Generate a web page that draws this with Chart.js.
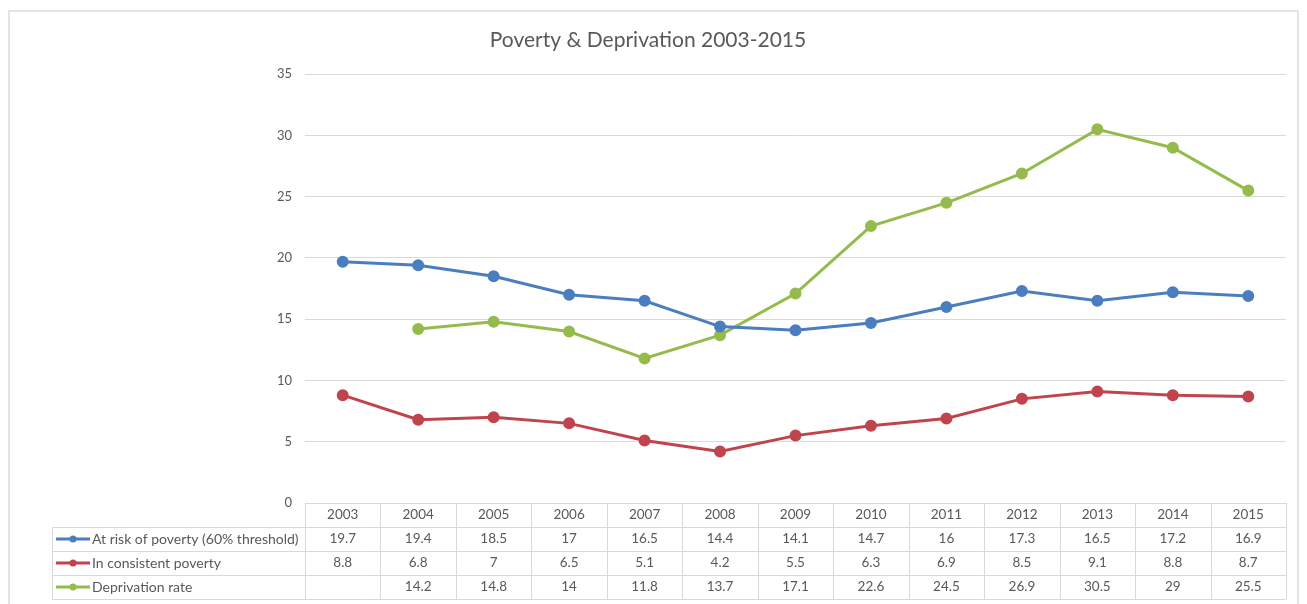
<!DOCTYPE html>
<html>
<head>
<meta charset="utf-8">
<title>Poverty & Deprivation 2003-2015</title>
<script src="https://cdn.jsdelivr.net/npm/chart.js@4/dist/chart.umd.min.js"></script>
<style>
  body { margin: 0; background: #fff; }
  canvas { display: block; }
</style>
</head>
<body>
<canvas id="povertyChart" width="1307" height="604"></canvas>
<script>
// Chart data
const years = ["2003", "2004", "2005", "2006", "2007", "2008", "2009", "2010", "2011", "2012", "2013", "2014", "2015"];
const atRisk = [19.7, 19.4, 18.5, 17, 16.5, 14.4, 14.1, 14.7, 16, 17.3, 16.5, 17.2, 16.9];
const consistentPoverty = [8.8, 6.8, 7, 6.5, 5.1, 4.2, 5.5, 6.3, 6.9, 8.5, 9.1, 8.8, 8.7];
const deprivation = [null, 14.2, 14.8, 14, 11.8, 13.7, 17.1, 22.6, 24.5, 26.9, 30.5, 29, 25.5];
const seriesNames = ["At risk of poverty (60% threshold)", "In consistent poverty", "Deprivation rate"];
const yTicks = [0, 5, 10, 15, 20, 25, 30, 35];

const FONT = "Lato, 'Open Sans', sans-serif";
const TEXT = "#595959";
const GRID = "#d9d9d9";

// Data table drawn under the plot, like the Excel chart
const dataTable = {
  id: "dataTable",
  beforeDraw(chart) {
    const ctx = chart.ctx;
    ctx.save();
    ctx.strokeStyle = "#e3e3e3";
    ctx.lineWidth = 2;
    ctx.strokeRect(9, 11, 1289, 600);
    ctx.restore();
  },
  afterDraw(chart) {
    const ctx = chart.ctx;
    const x = chart.scales.x;
    const area = chart.chartArea;
    const rowH = 24;
    const top = area.bottom;
    const labelLeft = 52;
    const colW = (area.right - area.left) / years.length;

    ctx.save();
    ctx.strokeStyle = GRID;
    ctx.lineWidth = 1;

    // horizontal lines
    for (let r = 0; r <= 4; r++) {
      const y = Math.round(top + r * rowH) + 0.5;
      ctx.beginPath();
      ctx.moveTo(r === 0 ? area.left : labelLeft, y);
      ctx.lineTo(area.right, y);
      ctx.stroke();
    }
    // vertical lines
    for (let c = 0; c <= years.length; c++) {
      const xx = Math.round(area.left + c * colW) + 0.5;
      ctx.beginPath();
      ctx.moveTo(xx, top);
      ctx.lineTo(xx, top + 4 * rowH);
      ctx.stroke();
    }
    ctx.beginPath();
    ctx.moveTo(labelLeft + 0.5, top + rowH);
    ctx.lineTo(labelLeft + 0.5, top + 4 * rowH);
    ctx.stroke();

    ctx.font = "13.5px " + FONT;
    ctx.fillStyle = TEXT;
    ctx.textAlign = "center";
    ctx.textBaseline = "middle";
    const rows = [atRisk, consistentPoverty, deprivation];
    years.forEach((yr, i) => {
      const cx = x.getPixelForValue(i);
      ctx.fillText(yr, cx, top + rowH / 2);
      rows.forEach((vals, r) => {
        if (vals[i] !== null) ctx.fillText(String(vals[i]), cx, top + (r + 1.5) * rowH);
      });
    });

    // legend keys in the label column
    ctx.font = "14px " + FONT;
    chart.data.datasets.forEach((ds, r) => {
      const cy = top + (r + 1.5) * rowH;
      ctx.strokeStyle = ds.borderColor;
      ctx.lineWidth = 3;
      ctx.beginPath();
      ctx.moveTo(56, cy);
      ctx.lineTo(90, cy);
      ctx.stroke();
      ctx.fillStyle = ds.borderColor;
      ctx.beginPath();
      ctx.arc(73, cy, 3.5, 0, Math.PI * 2);
      ctx.fill();
      ctx.fillStyle = TEXT;
      ctx.textAlign = "left";
      ctx.fillText(ds.label, 92, cy);
    });
    ctx.restore();
  }
};

function line(label, values, color) {
  return {
    label: label,
    data: values,
    borderColor: color,
    backgroundColor: color,
    borderWidth: 3,
    pointRadius: 4.5,
    pointHoverRadius: 5.5,
    tension: 0,
  };
}

new Chart(document.getElementById("povertyChart").getContext("2d"), {
  type: "line",
  data: {
    labels: years,
    datasets: [
      line(seriesNames[0], atRisk, "#4a7ebf"),
      line(seriesNames[1], consistentPoverty, "#c0444d"),
      line(seriesNames[2], deprivation, "#94bb4c"),
    ],
  },
  options: {
    responsive: false,
    animation: false,
    layout: { padding: { left: 10, right: 21, top: 0, bottom: 101 } },
    plugins: {
      legend: { display: false },
      tooltip: { enabled: true },
      title: {
        display: true,
        text: "Poverty & Deprivation 2003-2015",
        color: TEXT,
        font: { family: FONT, size: 21, weight: "normal" },
        padding: { top: 28, bottom: 21 },
      },
    },
    scales: {
      x: { display: false, offset: true },
      y: {
        min: 0,
        max: 35,
        afterBuildTicks: (s) => { s.ticks = yTicks.map((v) => ({ value: v })); },
        afterFit: (s) => { s.width = 295; },
        border: { display: false },
        grid: { color: GRID, drawTicks: false },
        ticks: { color: TEXT, padding: 13, font: { family: FONT, size: 13 } },
      },
    },
  },
  plugins: [dataTable],
});
</script>
</body>
</html>
